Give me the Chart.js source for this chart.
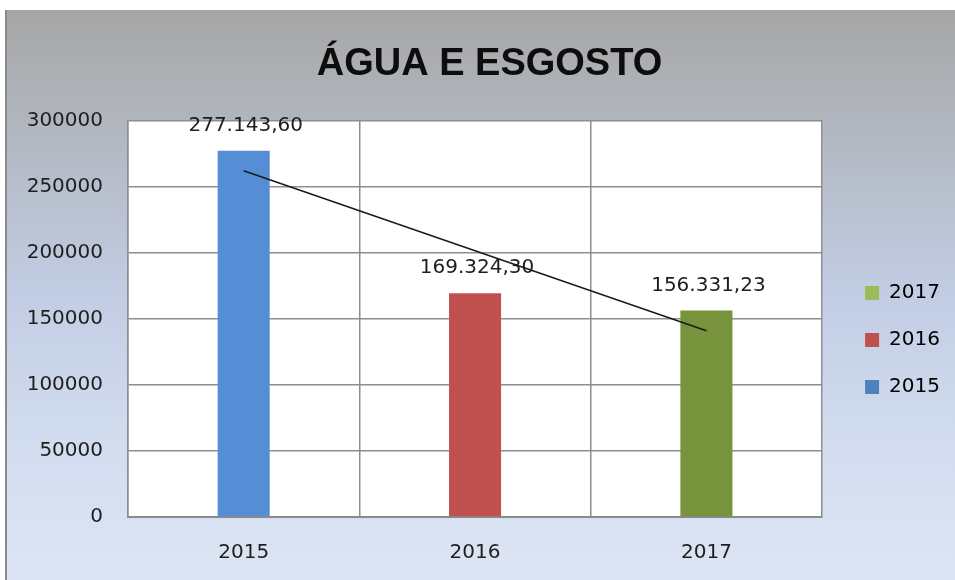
<!DOCTYPE html>
<html>

<head>
  <meta charset="UTF-8" />
  <title>Água e Esgosto</title>
  <script src="https://cdn.jsdelivr.net/npm/chart.js@4.4.0/dist/chart.umd.min.js"></script>
  <style>
    body { margin: 0; background: #fff; }
    #wrap {
      position: absolute; left: 5px; top: 10px; width: 948px; height: 570px;
      border-left: 2px solid #8a8a8a;
      background: linear-gradient(#a6a6a6 0%, #b1b6bf 20%, #c2cde4 50%, #d2dcef 75%, #dde5f4 100%);
    }
  </style>
</head>

<body>
  <div id="wrap"><canvas id="chart" width="948" height="570"></canvas></div>
  <script>
    const years = ['2015', '2016', '2017'];
    const values = [277143.60, 169324.30, 156331.23];
    const trend = [262000, null, 141000];   // (linear trend line)
    const yTicks = [0, 50000, 100000, 150000, 200000, 250000, 300000];
    const barColors = ['#558ed5', '#c0504d', '#77933c'];
    const legendColors = ['#4f81bd', '#c0504d', '#9bbb59'];

    // 277143.6 -> "277.143,60"
    function fmtBR(v) {
      const parts = v.toFixed(2).split('.');
      return parts[0].replace(/\B(?=(\d{3})+(?!\d))/g, '.') + ',' + parts[1];
    }

    const plotBg = {
      id: 'plotBg',
      beforeDraw(chart) {
        const { ctx, chartArea: a } = chart;
        ctx.save();
        ctx.fillStyle = '#fff';
        ctx.fillRect(a.left, a.top, a.right - a.left, a.bottom - a.top);
        ctx.restore();
      }
    };

    const valueLabels = {
      id: 'valueLabels',
      afterDatasetsDraw(chart) {
        const ctx = chart.ctx;
        ctx.save();
        ctx.font = '20px "DejaVu Sans"';
        ctx.fillStyle = '#1e1e1e';
        ctx.textAlign = 'center';
        ctx.textBaseline = 'middle';
        years.forEach((y, i) => {
          const el = chart.getDatasetMeta(i).data[i];
          ctx.fillText(fmtBR(values[i]), el.x + 2, el.y - 25);
        });
        ctx.restore();
      }
    };

    // nudge the legend and the title like the original
    const boxShift = {
      id: 'boxShift',
      afterLayout(chart) {
        const l = chart.legend;
        l.left += 16; l.right += 16;
        l.top += 45; l.bottom += 45;
        const t = chart.titleBlock;
        t.left += 19; t.right += 19;
      }
    };

    const datasets = years.map((y, i) => ({
      type: 'bar',
      label: y,
      data: years.map((_, j) => (j === i ? values[i] : null)),
      backgroundColor: barColors[i],
      legendColor: legendColors[i],
      barPercentage: 0.225,
      categoryPercentage: 1,
      grouped: false,
      order: 2
    }));
    datasets.push({
      type: 'line',
      label: 'trend',
      data: trend,
      borderColor: '#1a1a1a',
      borderWidth: 1.5,
      pointRadius: 0,
      spanGaps: true,
      order: 1
    });

    const tickFont = { family: 'DejaVu Sans', size: 20 };

    new Chart(document.getElementById('chart'), {
      type: 'bar',
      data: { labels: years, datasets },
      options: {
        responsive: false,
        animation: false,
        layout: { padding: { left: 0, right: 21, top: 0, bottom: 0 } },
        plugins: {
          title: {
            display: true,
            text: 'ÁGUA E ESGOSTO',
            color: '#0d0d0d',
            font: { family: 'Liberation Sans', size: 38, weight: 'bold' },
            padding: { top: 32, bottom: 33 }
          },
          legend: {
            position: 'right',
            reverse: true,
            labels: {
              boxWidth: 14,
              boxHeight: 14,
              padding: 27,
              color: '#1e1e1e',
              font: tickFont,
              filter: item => item.text !== 'trend',
              generateLabels(chart) {
                return chart.data.datasets.map((ds, i) => ({
                  text: ds.label,
                  fillStyle: ds.legendColor,
                  strokeStyle: ds.legendColor,
                  lineWidth: 0,
                  datasetIndex: i
                }));
              }
            }
          },
          tooltip: { enabled: false }
        },
        scales: {
          x: {
            offset: true,
            grid: { color: '#8e8e8e', lineWidth: 1.5, offset: true, drawTicks: false },
            border: { color: '#8a8a8a', width: 2 },
            ticks: { color: '#1e1e1e', font: tickFont, padding: 24 },
            afterFit(s) { s.height = 63; }
          },
          y: {
            min: 0,
            max: 300000,
            afterBuildTicks(s) { s.ticks = yTicks.map(v => ({ value: v })); },
            grid: { color: '#8e8e8e', lineWidth: 1.5, drawTicks: false },
            border: { color: '#8e8e8e', width: 1.5 },
            ticks: { color: '#1e1e1e', font: tickFont, padding: 25, callback: v => String(v) },
            afterFit(s) { s.width = 121; }
          }
        }
      },
      plugins: [plotBg, valueLabels, boxShift]
    });
  </script>
</body>

</html>
